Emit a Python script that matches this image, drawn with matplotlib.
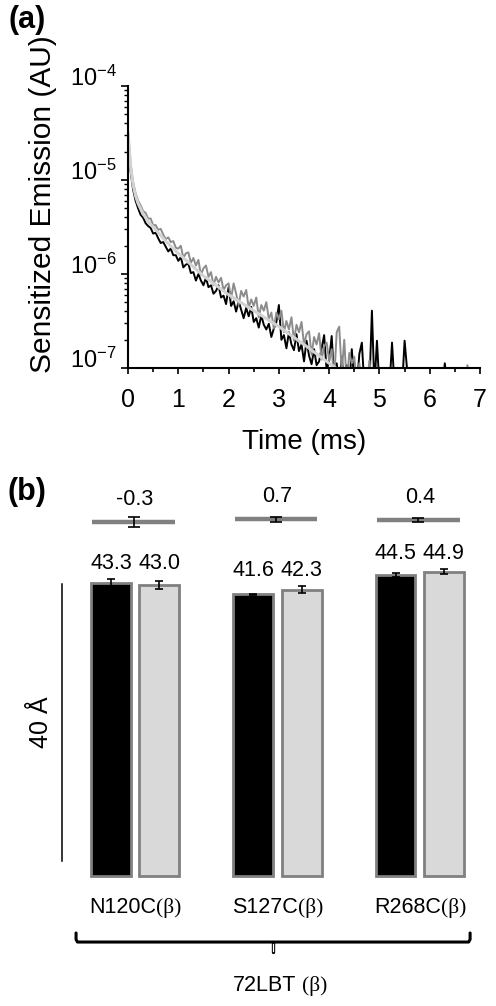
import matplotlib
import matplotlib.pyplot as plt
import numpy as np
from matplotlib.ticker import LogLocator, MultipleLocator, NullFormatter

matplotlib.use("Agg")

plt.rcParams["font.family"] = ["Liberation Sans", "DejaVu Sans"]
plt.rcParams["mathtext.fontset"] = "custom"
plt.rcParams["mathtext.rm"] = "Liberation Sans"
plt.rcParams["mathtext.default"] = "regular"

# ---- (a) sensitized emission decays, log10(AU), one sample every 0.05 ms
SAMPLE_MS = 0.05
black_log = [
    -4.52, -4.90, -5.10, -5.22, -5.30, -5.37, -5.40, -5.46, -5.49, -5.51,
    -5.57, -5.56, -5.62, -5.67, -5.66, -5.71, -5.76, -5.73, -5.80, -5.80,
    -5.86, -5.82, -5.93, -5.90, -5.89, -5.99, -5.98, -6.07, -6.00, -6.07,
    -6.12, -6.04, -6.14, -6.12, -6.21, -6.18, -6.12, -6.25, -6.23, -6.32,
    -6.14, -6.34, -6.29, -6.40, -6.29, -6.38, -6.47, -6.36, -6.45, -6.35,
    -6.51, -6.47, -6.57, -6.44, -6.54, -6.59, -6.53, -6.67, -6.58, -6.51,
    -6.33, -6.70, -6.65, -6.79, -6.62, -6.75, -6.81, -6.64, -6.82, -6.75,
    -6.93, -6.71, -6.87, -6.96, -6.80, -6.97, -6.93, -6.79, -6.65, -7.03,
    -6.92, -6.66, -7.12, -6.95, -7.18, -6.88, -7.20, -6.97, -7.20, -6.80,
    -7.15, -7.20, -6.85, -6.73, -7.20, -7.02, -7.20, -6.39, -7.20, -6.71,
    -7.20, -7.00, -7.20, -7.20, -7.20, -6.73, -7.20, -7.20, -7.20, -7.20,
    -6.71, -7.02, -7.20, -7.20, -7.20, -7.20, -7.20, -7.20, -7.20, -7.20,
    -7.20, -7.20, -7.20, -7.20, -7.20, -7.20, -6.95, -7.20, -7.20, -7.20,
    -7.20, -7.20, -7.20, -7.20, -7.20, -7.20, -7.20, -7.20, -7.20, -7.20,
    -7.20,
]
gray_log = [
    -4.48, -4.82, -5.02, -5.14, -5.22, -5.27, -5.33, -5.35, -5.41, -5.41,
    -5.48, -5.48, -5.53, -5.52, -5.58, -5.63, -5.61, -5.66, -5.65, -5.72,
    -5.73, -5.70, -5.83, -5.78, -5.77, -5.88, -5.83, -5.91, -5.85, -6.01,
    -5.94, -5.91, -6.03, -5.98, -6.12, -6.03, -6.09, -6.04, -6.17, -6.12,
    -6.10, -6.26, -6.10, -6.21, -6.33, -6.18, -6.24, -6.17, -6.36, -6.27,
    -6.34, -6.25, -6.46, -6.33, -6.39, -6.30, -6.48, -6.41, -6.58, -6.41,
    -6.48, -6.39, -6.62, -6.50, -6.59, -6.46, -6.71, -6.54, -6.62, -6.51,
    -6.75, -6.64, -6.61, -6.86, -6.67, -6.75, -6.63, -6.91, -6.77, -6.73,
    -6.92, -6.80, -7.12, -6.62, -6.56, -7.05, -6.70, -7.18, -6.84, -6.95,
    -6.88, -7.20, -6.95, -7.15, -7.00, -7.20, -6.92, -7.20, -7.05, -7.20,
    -7.20, -7.20, -7.20, -7.20, -7.20, -7.20, -7.20, -7.20, -7.20, -7.20,
    -7.20, -7.20, -7.20, -7.20, -7.20, -7.20, -7.20, -7.20, -7.20, -7.20,
    -7.20, -7.20, -7.20, -7.20, -7.20, -7.20, -7.20, -7.20, -7.20, -7.20,
    -7.20, -7.20, -7.20, -7.20, -7.20, -6.97, -7.20, -7.20, -7.20, -7.20,
    -7.20,
]
fit_time = [0, 0.05, 0.1, 0.15, 0.2, 0.3, 0.4, 0.5, 0.75, 1.0, 1.25, 1.5, 2.0, 2.5, 3.0, 3.5, 4.0, 4.5]
fit_log = [-4.50, -4.85, -5.05, -5.17, -5.25, -5.36, -5.44, -5.50, -5.65, -5.78,
           -5.90, -6.02, -6.22, -6.39, -6.56, -6.75, -6.95, -7.14]
decay_exponents = [-7, -6, -5, -4]
time_ticks = [0, 1, 2, 3, 4, 5, 6, 7]

# ---- (b) distances (Angstrom)
mutants = ["N120C", "S127C", "R268C"]
dist_black = [43.3, 41.6, 44.5]
err_black = [0.5, 0.1, 0.3]
dist_gray = [43.0, 42.3, 44.9]
err_gray = [0.6, 0.47, 0.37]
dist_diff = [-0.3, 0.7, 0.4]
err_diff = [0.75, 0.37, 0.32]

fig = plt.figure(figsize=(4.96, 10.06), dpi=100)
fig.patch.set_facecolor("white")

# ================= (a)
ax1 = fig.add_axes([0.2581, 0.6342, 0.7097, 0.2803])
t_black = np.arange(len(black_log)) * SAMPLE_MS
t_gray = np.arange(len(gray_log)) * SAMPLE_MS
ax1.plot(t_black, 10.0 ** np.array(black_log), color="black", lw=1.4)
ax1.plot(t_gray, 10.0 ** np.array(gray_log), color="#8c8c8c", lw=1.4)
ax1.plot(fit_time, 10.0 ** np.array(fit_log), color="#d2d2d2", lw=2.2)

ax1.set_yscale("log")
ax1.set_xlim(0, 7)
ax1.set_ylim(1e-7, 1e-4)
ax1.set_xticks(time_ticks)
ax1.xaxis.set_minor_locator(MultipleLocator(0.5))
ax1.set_yticks([10.0 ** e for e in decay_exponents])
ax1.set_yticklabels([f"10$^{{{e}}}$" for e in decay_exponents])
ax1.yaxis.set_minor_locator(LogLocator(base=10, subs=range(2, 10)))
ax1.yaxis.set_minor_formatter(NullFormatter())
plt.setp(ax1.get_yticklabels(), va="baseline")

for side in ["top", "right"]:
    ax1.spines[side].set_visible(False)
for side in ["left", "bottom"]:
    ax1.spines[side].set_linewidth(1.5)

ax1.tick_params(axis="x", which="major", direction="out", length=4.5, width=1.2, labelsize=18, pad=10)
ax1.tick_params(axis="x", which="minor", direction="out", length=3, width=1.2)
ax1.tick_params(axis="y", which="major", direction="out", length=5, width=1.2, labelsize=17, pad=3)
ax1.tick_params(axis="y", which="minor", direction="out", length=3, width=1.0)

ax1.set_xlabel("Time (ms)", fontsize=20, labelpad=12)
ax1.set_ylabel("Sensitized Emission (AU)", fontsize=21.5)
ax1.yaxis.set_label_coords(-0.203, 0.58)

fig.text(27 / 496, 1 - 20 / 1006, "(a)", fontsize=22, fontweight="bold", ha="center", va="center")

# ================= (b)
ax2 = fig.add_axes([0, 0.00875, 1, 0.5107])
ax2.set_xlim(-0.9494, 2.536)
ax2.set_ylim(-18, 58)
ax2.axis("off")

x = np.arange(len(mutants))
off = 0.17
bw = 0.28
ax2.bar(x - off, dist_black, bw, color="black", edgecolor="#808080", linewidth=2,
        yerr=err_black, capsize=3, error_kw=dict(ecolor="black", elinewidth=1.2, capthick=1.2))
ax2.bar(x + off, dist_gray, bw, color="#d9d9d9", edgecolor="#808080", linewidth=2,
        yerr=err_gray, capsize=3, error_kw=dict(ecolor="black", elinewidth=1.2, capthick=1.2))

for i in range(len(mutants)):
    top = max(dist_black[i] + err_black[i], dist_gray[i] + err_gray[i])
    ax2.text(i - off, top + 2.4, f"{dist_black[i]:.1f}", ha="center", va="center", fontsize=15.5)
    ax2.text(i + off, top + 2.4, f"{dist_gray[i]:.1f}", ha="center", va="center", fontsize=15.5)

    # difference bar drawn above each pair
    yd = 52.43 + 0.44 * dist_diff[i]
    ax2.hlines(yd, i - 0.3, i + 0.28, color="#808080", lw=3.2)
    ax2.errorbar(i - 0.01, yd, yerr=err_diff[i], fmt="none", ecolor="black",
                 elinewidth=1.2, capsize=4, capthick=1.2)
    ax2.text(i, yd + 3.3, f"{dist_diff[i]:.1f}", ha="center", va="center", fontsize=15.5)

    stem = ax2.annotate(mutants[i], xy=(i, -4.66), xytext=(-9, 0), textcoords="offset points",
                        ha="center", va="center", fontsize=15.5)
    ax2.annotate("(\u03b2)", xy=(1, 0), xycoords=stem, ha="left", va="bottom",
                 fontsize=15.5, family="Liberation Serif")

# 40 A scale bar
ax2.plot([-0.512, -0.512], [2.1, 43.1], color="black", lw=1.1)
ax2.text(-0.661, 22.7, "40 \u00c5", rotation=90, ha="center", va="center", fontsize=18)

# brace under the three mutants
ax2.plot([-0.415, -0.415, -0.405, 2.344, 2.354, 2.354], [-8.5, -9.45, -9.84, -9.84, -9.45, -8.5],
         color="black", lw=2.2, solid_joinstyle="round", solid_capstyle="round")
ax2.plot([0.969, 0.969], [-9.84, -11.3], color="black", lw=2.4, solid_capstyle="round")
ax2.plot([0.969, 0.969], [-10.1, -11.1], color="white", lw=0.9)

grp = ax2.annotate("72LBT", xy=(1.024, -16.2), xytext=(-11.6, 0), textcoords="offset points",
                   ha="center", va="center", fontsize=15.5)
ax2.annotate("(\u03b2)", xy=(1, 0), xycoords=grp, xytext=(4, 0), textcoords="offset points",
             ha="left", va="bottom", fontsize=15.5, family="Liberation Serif")

fig.text(27 / 496, 1 - 492 / 1006, "(b)", fontsize=22, fontweight="bold", ha="center", va="center")

fig.savefig("out.png", dpi=100, facecolor="white")
plt.close(fig)
